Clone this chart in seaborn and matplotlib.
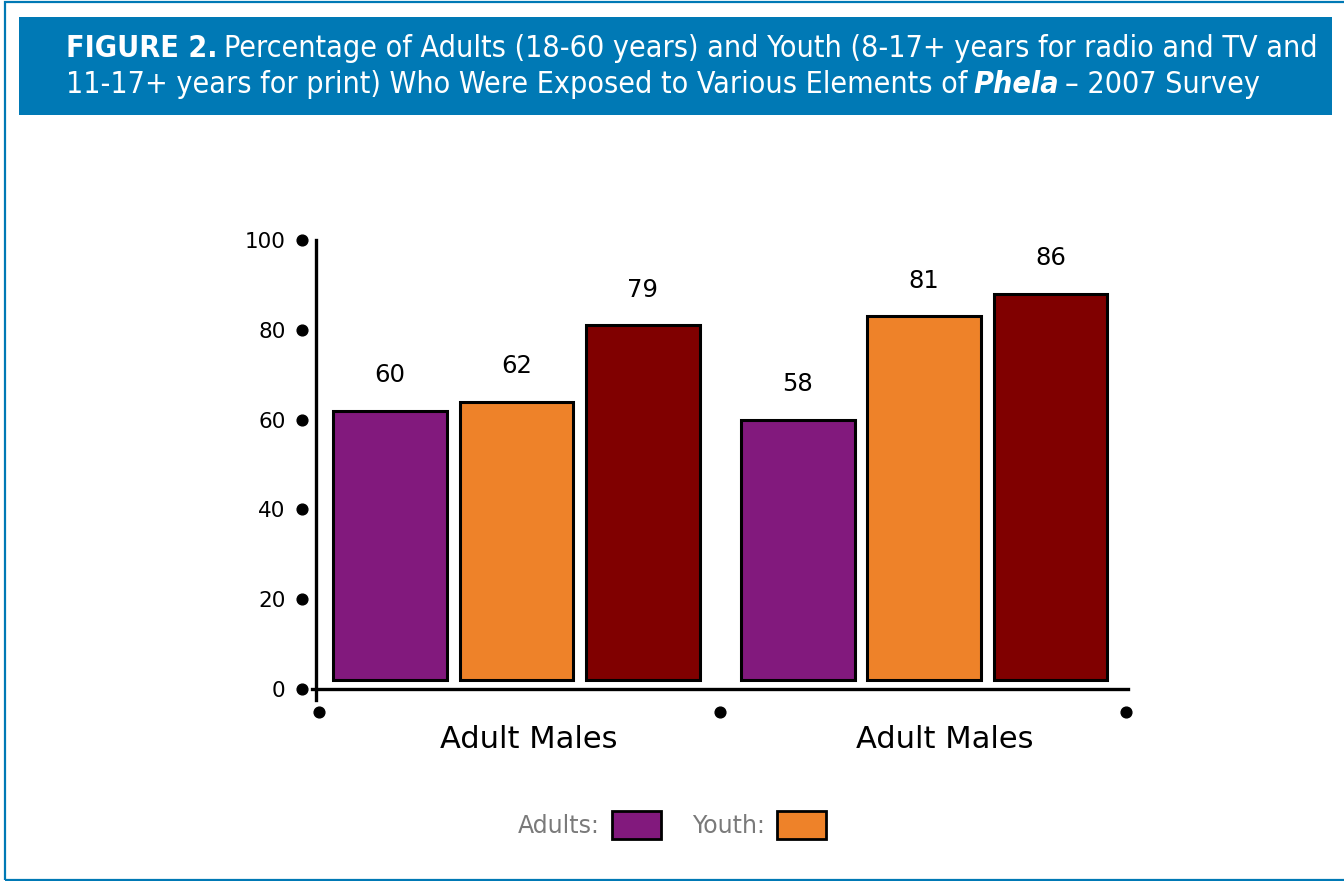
import matplotlib
matplotlib.use("Agg")
import matplotlib.pyplot as plt
import seaborn as sns
import pandas as pd
from matplotlib.patches import Patch, Rectangle

# chart data
groups = ["Adult Males", "Adult Males"]
series = ["Adults", "Youth", "Total"]
adults = [60, 58]
youth = [62, 81]
total = [79, 86]
yticks = [0, 20, 40, 60, 80, 100]
colors = ["#82197d", "#ee8229", "#800000"]
legend_items = ["Adults:", "Youth:"]

rows = []
for i in range(len(groups)):
    for name, vals in zip(series, [adults, youth, total]):
        rows.append({"group": i, "series": name, "value": vals[i]})
df = pd.DataFrame(rows)

sns.set_style("white")
plt.rcParams["font.family"] = ["DejaVu Sans"]
plt.rcParams["text.color"] = "black"
plt.rcParams["xtick.color"] = "black"
plt.rcParams["ytick.color"] = "black"

W, H = 1344, 881
fig = plt.figure(figsize=(W / 100, H / 100), dpi=100)
ax = fig.add_axes([316 / W, 1 - 689 / H, (1128 - 316) / W, (689 - 240) / H])

sns.barplot(data=df, x="group", y="value", hue="series", palette=colors,
            width=0.93, gap=0.1, edgecolor="black", linewidth=2.2,
            saturation=1, legend=False, ax=ax)

# bars sit slightly above the axis line
for p in ax.patches:
    p.set_y(2)

for c in ax.containers:
    ax.bar_label(c, labels=[str(int(v)) for v in c.datavalues], padding=17, fontsize=17.5)

ax.set_xlim(-0.492, 1.5)
ax.set_ylim(0, 100)
ax.set_yticks(yticks)
ax.set_yticklabels([str(t) for t in yticks], fontsize=15.5)
# group labels sit a little right of the bar groups in the original
label_shift = [0.03, 0.05]
ax.set_xticks([i + label_shift[i] for i in range(len(groups))])
ax.set_xticklabels(groups, fontsize=22)
ax.tick_params(axis="y", length=0, pad=22)
ax.tick_params(axis="x", length=0, pad=26)
ax.set_xlabel("")
ax.set_ylabel("")
sns.despine(ax=ax)
for s in ["left", "bottom"]:
    ax.spines[s].set_linewidth(2.4)
    ax.spines[s].set_color("black")
ax.spines["left"].set_bounds(-2.5, 100)
ax.spines["bottom"].set_bounds(-0.502, 1.5)

# round markers on the axes
ax.scatter([-0.017] * len(yticks), yticks, s=60, color="black",
           transform=ax.get_yaxis_transform(), clip_on=False, zorder=5)
ax.scatter([-0.485, 0.5, 1.496], [-0.051] * 3, s=60, color="black",
           transform=ax.get_xaxis_transform(), clip_on=False, zorder=5)

# legend (only two entries in the original)
handles = [Patch(facecolor=colors[i], edgecolor="black", linewidth=2) for i in range(2)]
fig.legend(handles, legend_items, loc="center", bbox_to_anchor=(0.5, 1 - 825 / H),
           ncol=2, frameon=False, markerfirst=False, fontsize=17,
           handlelength=2.1, handleheight=1.5, handletextpad=0.5, columnspacing=1.3,
           labelcolor="#7a7a7a")

# frame and header band
blue = "#0079b5"
fig.patches.append(Rectangle((5 / W, 1 - 880 / H), 1.2, (879 - 1) / H, transform=fig.transFigure,
                             fill=False, edgecolor=blue, linewidth=1.6))
fig.patches.append(Rectangle((19 / W, 1 - 115 / H), (1332 - 19) / W, (115 - 17) / H,
                             transform=fig.transFigure, facecolor=blue, edgecolor="none"))

renderer = fig.canvas.get_renderer()
line1 = "Percentage of Adults (18-60 years) and Youth (8-17+ years for radio and TV and"


def put(x, y, s, size, **kw):
    t = fig.text(x / W, 1 - y / H, s, color="white", fontsize=size, family="DejaVu Sans",
                 stretch="condensed", va="baseline", ha="left", **kw)
    return t


# size the header so the first line spans the band like the original
probe = put(66, 58, "FIGURE 2. " + line1, 20)
wpx = probe.get_window_extent(renderer).width
probe.remove()
size = 20 * (1300 - 66) / wpx

x = put(66, 57, "FIGURE 2.", size, weight="bold").get_window_extent(renderer).x1
put(x + 6, 57, line1, size)
x = put(66, 93, "11-17+ years for print) Who Were Exposed to Various Elements of", size).get_window_extent(renderer).x1
x = put(x + 6, 93, "Phela", size, weight="bold", style="italic").get_window_extent(renderer).x1
put(x + 6, 93, "\u2013 2007 Survey", size)

fig.savefig("out.png", dpi=100)
